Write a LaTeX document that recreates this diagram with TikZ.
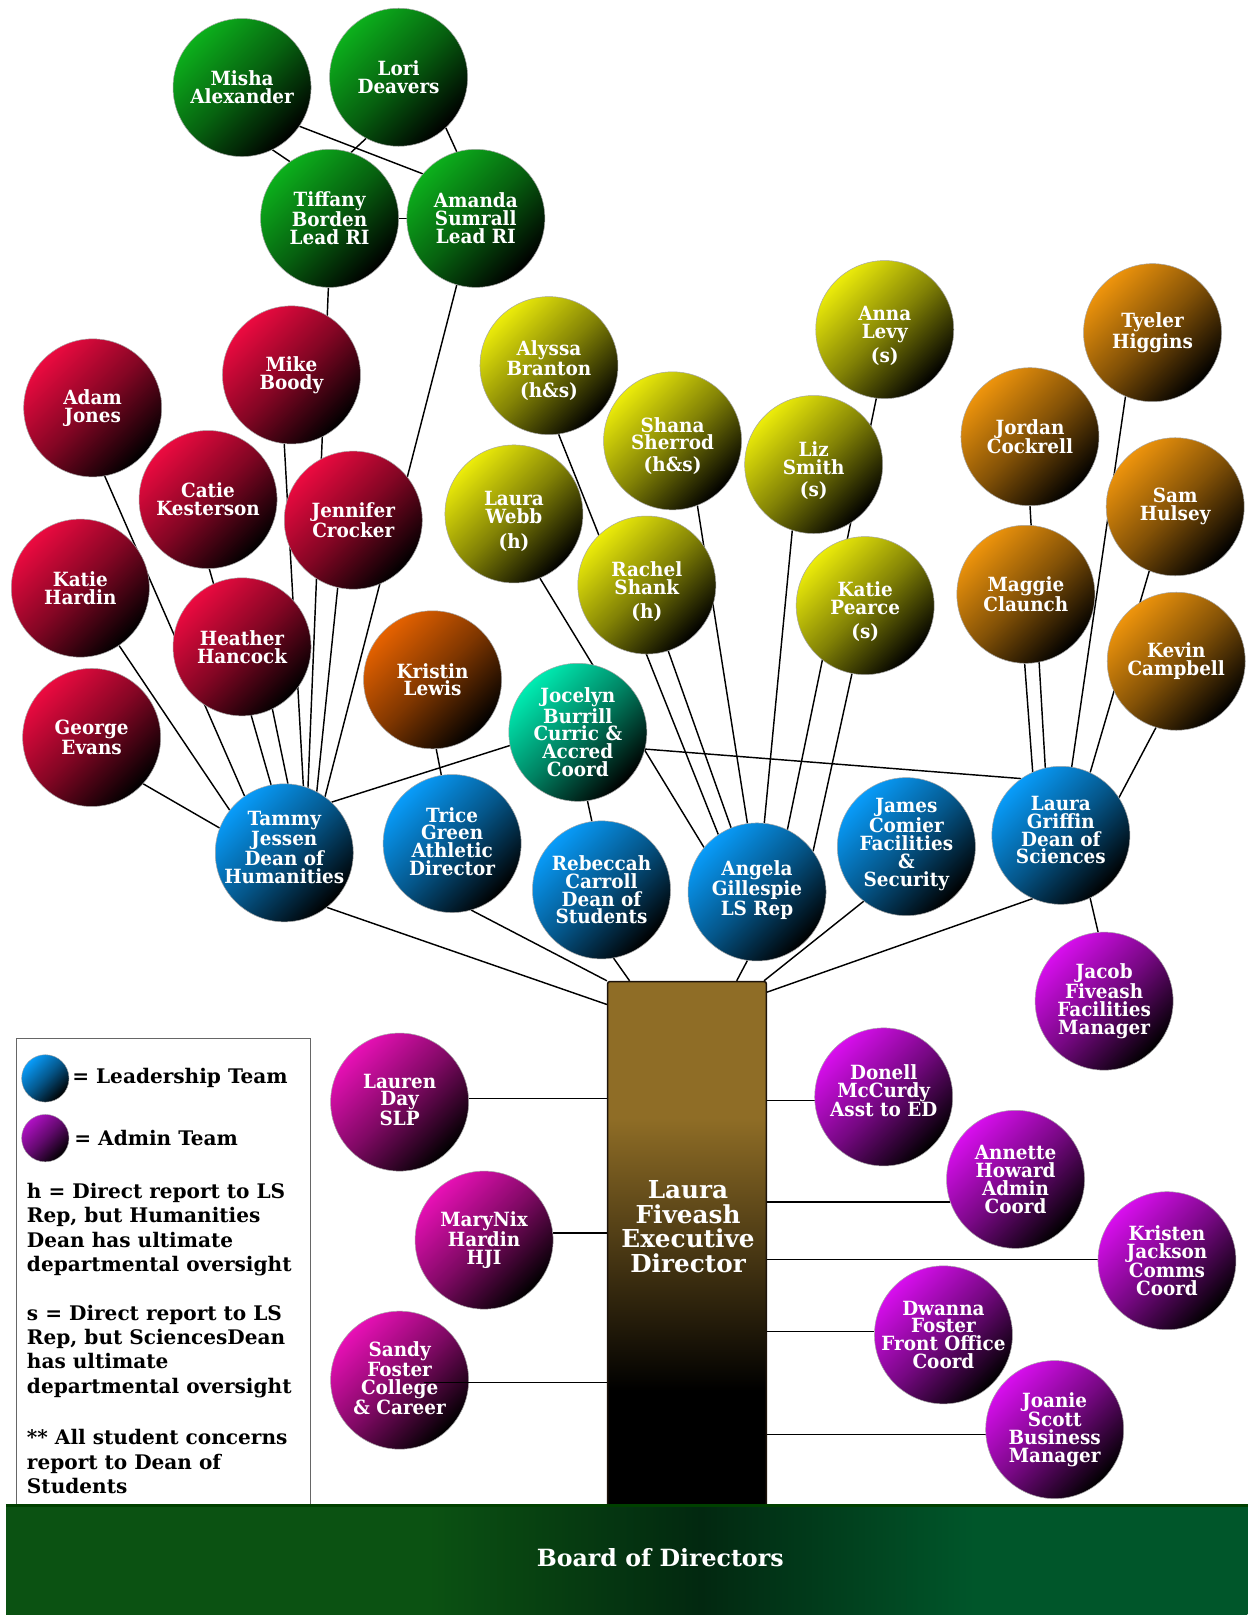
\documentclass[tikz,border=0pt]{standalone}
\usepackage{fontspec}
\setmainfont{DejaVu Serif}
\newfontfamily\ballfont[FakeStretch=0.94]{DejaVu Serif}
\usetikzlibrary{backgrounds,calc}

\definecolor{cgreen}{RGB}{12,176,28}
\definecolor{cred}{RGB}{236,10,64}
\definecolor{ckristin}{RGB}{230,98,0}
\definecolor{cteal}{RGB}{0,236,178}
\definecolor{cyellow}{RGB}{236,236,10}
\definecolor{corange}{RGB}{238,148,12}
\definecolor{cblue}{RGB}{8,156,250}
\definecolor{cpurple}{RGB}{216,14,238}
\definecolor{cmagenta}{RGB}{232,16,182}
\definecolor{clegpurple}{RGB}{176,16,196}
\definecolor{cgold}{RGB}{143,109,38}
\definecolor{bL}{RGB}{11,82,18}
\definecolor{bD}{RGB}{2,40,16}
\definecolor{bR}{RGB}{0,86,42}

\pgfdeclareverticalshading{trunkshade}{100bp}{color(0bp)=(black); color(36bp)=(black); color(62bp)=(cgold); color(100bp)=(cgold)}
\pgfdeclarehorizontalshading{boardshade}{100bp}{color(0bp)=(bL); color(42bp)=(bL); color(53bp)=(bD); color(64bp)=(bR); color(100bp)=(bR)}

\tikzset{
  ball/.style={circle, minimum size=134pt, inner sep=0pt, draw=black!35, line width=0.5pt,
    top color=#1, bottom color=black, middle color=#1!55!black, shading angle=45},
  lball/.style={circle, minimum size=45pt, inner sep=0pt, draw=black!35, line width=0.4pt,
    top color=#1, bottom color=black, middle color=#1!55!black, shading angle=45},
  ptext/.style={text=white, align=center, font=\ballfont\bfseries\fontsize{19}{17.3}\selectfont, inner sep=0pt},
  edtext/.style={text=white, align=center, font=\bfseries\fontsize{24}{24}\selectfont, inner sep=0pt},
  legtext/.style={text=black, align=left, font=\bfseries\fontsize{19.5}{23.7}\selectfont, inner sep=0pt},
  conn/.style={draw=black, line width=1.4pt},
}

\newcommand\pp[5][0]{\node[ball=#2] (#3) at (#4) {}; \node[ptext, yshift=#1pt] (#3t) at (#3.center) {#5};}

\begin{document}
\begin{tikzpicture}[x=1pt,y=1pt]
\useasboundingbox (0,0) rectangle (1211,-1568);

% green
\pp{cgreen}{misha}{235,-85}{Misha\\Alexander}
\pp{cgreen}{lori}{387,-75}{Lori\\Deavers}
\pp{cgreen}{tiffany}{320,-212}{Tiffany\\Borden\\Lead RI}
\pp{cgreen}{amanda}{462,-212}{Amanda\\Sumrall\\Lead RI}
% red
\pp{cred}{mike}{283,-364}{Mike\\Boody}
\pp{cred}{adam}{90,-396}{Adam\\Jones}
\pp{cred}{catie}{202,-485}{Catie\\Kesterson}
\pp{cred}{jennifer}{343,-505}{Jennifer\\Crocker}
\pp{cred}{katieh}{78,-571}{Katie\\Hardin}
\pp{cred}{heather}{235,-628}{Heather\\Hancock}
\pp{cred}{george}{89,-716}{George\\Evans}
\pp{ckristin}{kristin}{420,-660}{Kristin\\Lewis}
\pp{cteal}{jocelyn}{561,-711}{Jocelyn\\Burrill\\Curric \&\\Accred\\Coord}
% yellow
\pp[-5]{cyellow}{alyssa}{533,-355}{Alyssa\\Branton\\[4pt](h\&s)}
\pp[-5]{cyellow}{shana}{653,-428}{Shana\\Sherrod\\[4pt](h\&s)}
\pp[-6]{cyellow}{anna}{859,-320}{Anna\\Levy\\[4pt](s)}
\pp[-6]{cyellow}{liz}{790,-451}{Liz\\Smith\\[4pt](s)}
\pp[-7]{cyellow}{webb}{499,-499}{Laura\\Webb\\[7pt](h)}
\pp[-6]{cyellow}{rachel}{628,-568}{Rachel\\Shank\\[6pt](h)}
\pp[-6]{cyellow}{katiep}{840,-588}{Katie\\Pearce\\[6pt](s)}
% orange
\pp{corange}{tyeler}{1119,-323}{Tyeler\\Higgins}
\pp{corange}{jordan}{1000,-424}{Jordan\\Cockrell}
\pp{corange}{sam}{1141,-492}{Sam\\Hulsey}
\pp{corange}{maggie}{996,-577}{Maggie\\Claunch}
\pp{corange}{kevin}{1142,-642}{Kevin\\Campbell}
% blue
\pp[5]{cblue}{tammy}{276,-828}{Tammy\\Jessen\\Dean of\\Humanities}
\pp[2]{cblue}{trice}{439,-819}{Trice\\Green\\Athletic\\Director}
\pp{cblue}{rebeccah}{584,-864}{Rebeccah\\Carroll\\Dean of\\Students}
\pp[2]{cblue}{angela}{735,-866}{Angela\\Gillespie\\LS Rep}
\pp[2]{cblue}{james}{880,-822}{James\\Comier\\Facilities\\\&\\Security}
\pp[5]{cblue}{griffin}{1030,-811}{Laura\\Griffin\\Dean of\\Sciences}
% purple
\pp{cpurple}{jacob}{1072,-972}{Jacob\\Fiveash\\Facilities\\Manager}
\pp[6]{cpurple}{donell}{858,-1065}{Donell\\McCurdy\\Asst to ED}
\pp{cpurple}{annette}{986,-1145}{Annette\\Howard\\Admin\\Coord}
\pp{cpurple}{kristen}{1133,-1224}{Kristen\\Jackson\\Comms\\Coord}
\pp{cpurple}{dwanna}{916,-1296}{Dwanna\\Foster\\Front Office\\Coord}
\pp{cpurple}{joanie}{1024,-1388}{Joanie\\Scott\\Business\\Manager}
% magenta
\pp[2]{cmagenta}{lauren}{388,-1070}{Lauren\\Day\\SLP}
\pp{cmagenta}{marynix}{470,-1204}{MaryNix\\Hardin\\HJI}
\pp[2]{cmagenta}{sandy}{388,-1340}{Sandy\\Foster\\College\\\& Career}

% trunk
\node[draw=black!85!brown, line width=1.5pt, rounded corners=2pt, minimum width=154pt,
      minimum height=509pt, inner sep=0pt, shade, shading=trunkshade] (trunk) at (667,-1207.5) {};
\node[edtext] (edt) at (668,-1191) {Laura\\Fiveash\\Executive\\Director};

% legend
\draw[black!60, line width=0.8pt] (15.5,-1462) |- (301.5,-1008) -- (301.5,-1462);
\node[lball=cblue, minimum height=46pt] (legL) at (44,-1047) {};
\node[lball=clegpurple, minimum height=46pt] (legA) at (44,-1105) {};
\node[legtext, anchor=west] (legLt) at (70,-1047) {= Leadership Team};
\node[legtext, anchor=west] (legAt) at (72,-1105) {= Admin Team};
\node[legtext, anchor=west] (legh) at (26,-1194) {h = Direct report to LS\\Rep, but Humanities\\Dean has ultimate\\departmental oversight};
\node[legtext, anchor=west] (legs) at (26,-1312) {s = Direct report to LS\\Rep, but SciencesDean\\has ultimate\\departmental oversight};
\node[legtext, anchor=west] (legst) at (26,-1419) {** All student concerns\\report to Dean of\\Students};

% board
\node[minimum width=1205pt, minimum height=106pt, inner sep=0pt, shade, shading=boardshade] (board) at (608.5,-1515) {};
\draw[line width=2.5pt, black!75!green] (board.north west) -- (board.north east);
\node[text=white, font=\bfseries\fontsize{23}{24}\selectfont, inner sep=0pt] (boardt) at (641,-1512) {Board of Directors};

% line drawn over Sandy
\coordinate (sandyp) at ($(sandy.center)+(24,-2)$);
\draw[conn] (sandyp) -- (sandyp -| trunk.west);

\begin{pgfonlayer}{background}
\fill[white] (0,0) rectangle (1211,-1568);
% green
\draw[conn] (misha.-64) -- (tiffany.125);
\draw[conn] (misha.-34) -- (amanda.140);
\draw[conn] (lori.-118) -- (tiffany.72);
\draw[conn] (lori.-47) -- (amanda.106);
\draw[conn] (tiffany.east) -- (amanda.west);
% to Tammy
\draw[conn] (tiffany.-91) -- (tammy.70);
\draw[conn] (amanda.-106) -- (tammy.54);
\draw[conn] (adam.-80) -- (tammy.125);
\draw[conn] (katieh.-56) -- (tammy.142);
\draw[conn] (george.-42) -- (tammy.159);
\draw[conn] (catie.-89) -- (tammy.101);
\draw[conn] (heather.-64) -- (tammy.87);
\draw[conn] (mike.-96) -- (tammy.74);
\draw[conn] (jennifer.-103) -- (tammy.62);
\draw[conn] (jocelyn.191) -- (tammy.47);
% others
\draw[conn] (kristin.-87) -- (trice.99);
\draw[conn] (jocelyn.-82) -- (rebeccah.98);
\draw[conn] (jocelyn.-14) -- (griffin.125);
% to Angela
\draw[conn] (webb.-68) -- (angela.140);
\draw[conn] (alyssa.-82) -- (angela.124);
\draw[conn] (rachel.-72) -- (angela.112);
\draw[conn] (shana.-69) -- (angela.98);
\draw[conn] (liz.-108) -- (angela.84);
\draw[conn] (anna.-97) -- (angela.64);
\draw[conn] (katiep.-101) -- (angela.36);
% to Griffin
\draw[conn] (maggie.-91) -- (griffin.114);
\draw[conn] (jordan.-90) -- (griffin.103);
\draw[conn] (tyeler.-113) -- (griffin.81);
\draw[conn] (sam.-112) -- (griffin.65);
\draw[conn] (kevin.-107) -- (griffin.33);
\draw[conn] (griffin.-65) -- (jacob.95);
% to trunk
\draw[conn] (tammy.-52) -- ($(trunk.north west)+(0,-23)$);
\draw[conn] (trice.-74) -- (trunk.north west);
\draw[conn] (rebeccah.-80) -- ($(trunk.north west)+(22,0)$);
\draw[conn] (angela.-98) -- ($(trunk.north west)+(126,0)$);
\draw[conn] (james.-128) -- ($(trunk.north east)+(-3,0)$);
\draw[conn] (griffin.-114) -- ($(trunk.north east)+(0,-11)$);
% admin
\draw[conn] (lauren.3) -- (lauren.3 -| trunk.west);
\draw[conn] (marynix.6) -- (marynix.6 -| trunk.west);
\draw[conn] (donell.183) -- (donell.183 -| trunk.east);
\draw[conn] (annette.199) -- (annette.199 -| trunk.east);
\draw[conn] (kristen.179) -- (kristen.179 -| trunk.east);
\draw[conn] (dwanna.177) -- (dwanna.177 -| trunk.east);
\draw[conn] (joanie.184) -- (joanie.184 -| trunk.east);
\end{pgfonlayer}
\end{tikzpicture}
\end{document}
